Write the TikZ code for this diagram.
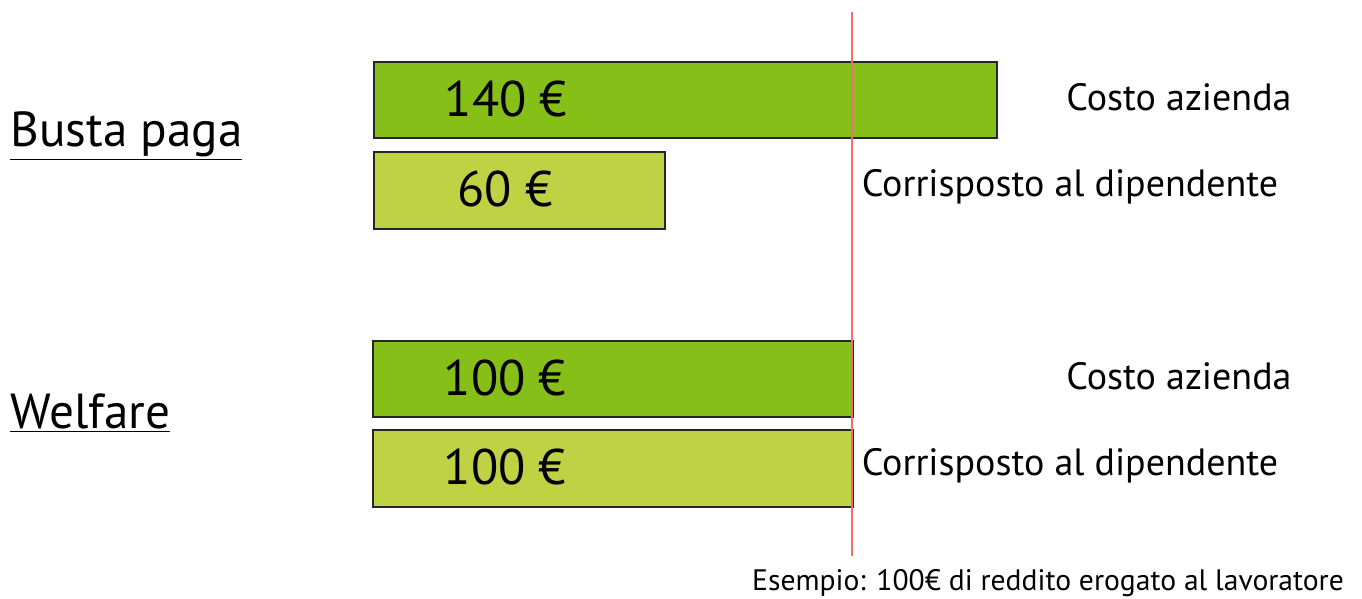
\documentclass[tikz,border=0pt]{standalone}
\usepackage{fontspec}
\setmainfont{PT Sans}
\usepackage{tikz}
\usetikzlibrary{positioning}
\definecolor{verdescuro}{RGB}{134,191,23}
\definecolor{verdechiaro}{RGB}{191,210,67}
\definecolor{rossolinea}{RGB}{240,110,110}

\tikzset{
  barra/.style={draw=black!85, line width=0.8pt, anchor=north west, inner sep=0pt},
  costo/.style={barra, fill=verdescuro},
  netto/.style={barra, fill=verdechiaro},
  importo/.style={font=\fontsize{25}{28}\selectfont},
  voce/.style={font=\fontsize{19}{22}\selectfont},
  titolo/.style={font=\fontsize{24.6}{28}\selectfont, anchor=west, inner sep=0pt},
}

\begin{document}
\begin{tikzpicture}[x=0.5pt,y=-0.5pt]
\useasboundingbox (0,0) rectangle (1362,599);

% busta paga
\node[titolo] (busta) at (10,136) {\underline{Busta paga}};
\node[costo, minimum width=311.5pt, minimum height=38pt] (bcosto) at (373,61) {};
\node[netto, minimum width=145.5pt, minimum height=38.5pt] (bnetto) at (373,151) {};
\node[importo] (bcostoval) at (506,99) {140 €};
\node[importo] (bnettoval) at (505,189) {60 €};
\node[voce] (bcostotxt) at (1179,97) {Costo azienda};
\node[voce] (bnettotxt) at (1070,187) {Corrisposto al dipendente};

% welfare
\node[titolo] (welfare) at (10,413) {\underline{Welfare}};
\node[costo, minimum width=240pt, minimum height=38pt] (wcosto) at (372,340) {};
\node[netto, minimum width=240pt, minimum height=38.5pt] (wnetto) at (372,429) {};
\node[importo] (wcostoval) at (505,378) {100 €};
\node[importo] (wnettoval) at (505,467) {100 €};
\node[voce] (wcostotxt) at (1179,376) {Costo azienda};
\node[voce] (wnettotxt) at (1070,466) {Corrisposto al dipendente};

% linea di riferimento
\coordinate (rsu) at (852,12);
\coordinate (rgiu) at (852,556);
\draw[rossolinea, line width=0.7pt] (rsu) -- (rgiu);

\node[voce, font=\fontsize{14.8}{17}\selectfont] (nota) at (1048,583) {Esempio: 100€ di reddito erogato al lavoratore};
\end{tikzpicture}
\end{document}
